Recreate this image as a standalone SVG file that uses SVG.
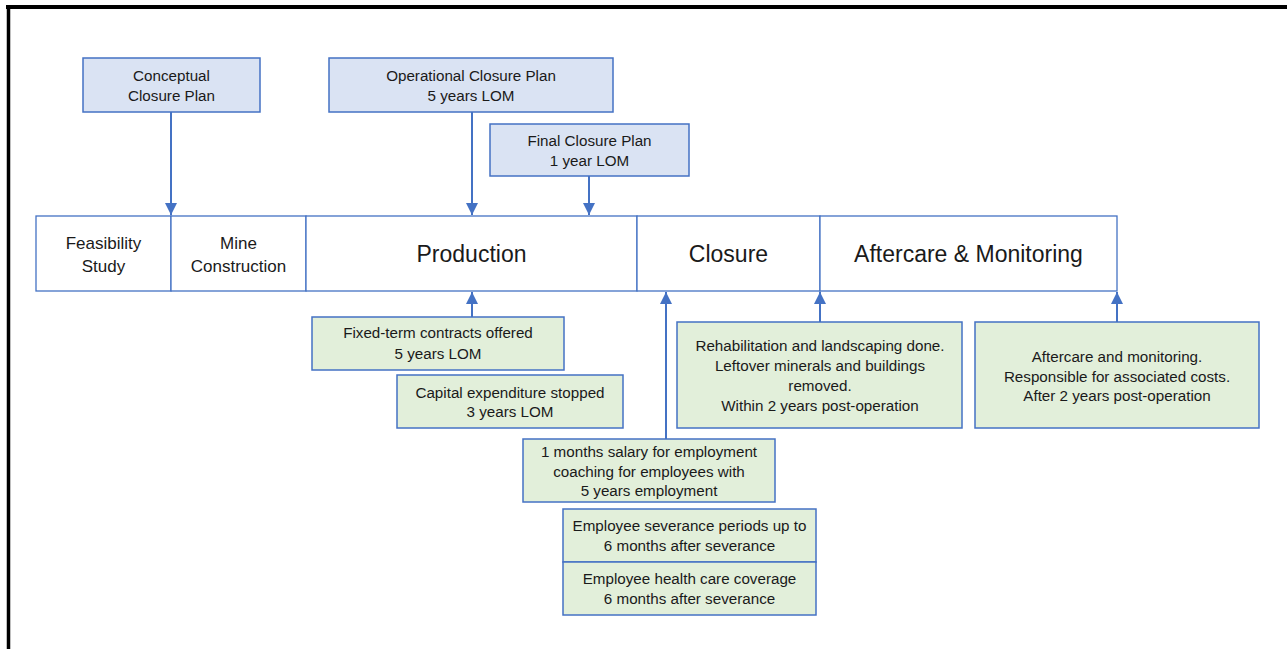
<svg xmlns="http://www.w3.org/2000/svg" width="1287" height="649" viewBox="0 0 1287 649">
  <style>
    text { font-family: "Liberation Sans", Arial, sans-serif; fill: #1a1a1a; text-anchor: middle; }
    .s { font-size: 15.2px; }
    .m { font-size: 17px; }
    .l { font-size: 23px; }
    .plan { fill: #dae3f3; stroke: #4472c4; stroke-width: 1.5; }
    .act { fill: #e2efda; stroke: #4472c4; stroke-width: 1.5; }
    .phase { fill: #ffffff; stroke: #4472c4; stroke-width: 1.3; }
    .conn { stroke: #4472c4; stroke-width: 2; fill: none; marker-end: url(#head); }
  </style>
  <defs>
    <marker id="head" markerUnits="userSpaceOnUse" markerWidth="14" markerHeight="12" refX="12" refY="6" orient="auto">
      <path d="M0,0 L12,6 L0,12 Z" fill="#4472c4"/>
    </marker>
  </defs>

  <rect width="1287" height="649" fill="#ffffff"/>
  <!-- frame -->
  <line x1="6" y1="7" x2="1287" y2="7" stroke="#000" stroke-width="4"/>
  <line x1="8.5" y1="5" x2="8.5" y2="649" stroke="#000" stroke-width="3.5"/>

  <!-- connectors -->
  <g id="connectors">
    <line class="conn" x1="171" y1="112" x2="171" y2="215"/>
    <line class="conn" x1="472" y1="112" x2="472" y2="215"/>
    <line class="conn" x1="589" y1="176" x2="589" y2="215"/>
    <line class="conn" x1="472" y1="317" x2="472" y2="292"/>
    <line class="conn" x1="666" y1="439" x2="666" y2="292"/>
    <line class="conn" x1="820" y1="322" x2="820" y2="292"/>
    <line class="conn" x1="1117" y1="322" x2="1117" y2="292"/>
  </g>

  <!-- closure plans -->
  <g id="conceptual-plan">
    <rect class="plan" x="83" y="58" width="177" height="54"/>
    <text class="s" x="171.5" y="81">Conceptual</text>
    <text class="s" x="171.5" y="101">Closure Plan</text>
  </g>
  <g id="operational-plan">
    <rect class="plan" x="329" y="58" width="284" height="54"/>
    <text class="s" x="471" y="81">Operational Closure Plan</text>
    <text class="s" x="471" y="101">5 years LOM</text>
  </g>
  <g id="final-plan">
    <rect class="plan" x="490" y="124" width="199" height="52"/>
    <text class="s" x="589.5" y="146">Final Closure Plan</text>
    <text class="s" x="589.5" y="166">1 year LOM</text>
  </g>

  <!-- phases -->
  <g id="phase-feasibility">
    <rect class="phase" x="36" y="216" width="135" height="75"/>
    <text class="m" x="103.5" y="249">Feasibility</text>
    <text class="m" x="103.5" y="272">Study</text>
  </g>
  <g id="phase-construction">
    <rect class="phase" x="171" y="216" width="135" height="75"/>
    <text class="m" x="238.5" y="249">Mine</text>
    <text class="m" x="238.5" y="272">Construction</text>
  </g>
  <g id="phase-production">
    <rect class="phase" x="306" y="216" width="331" height="75"/>
    <text class="l" x="471.5" y="262">Production</text>
  </g>
  <g id="phase-closure">
    <rect class="phase" x="637" y="216" width="183" height="75"/>
    <text class="l" x="728.5" y="262">Closure</text>
  </g>
  <g id="phase-aftercare">
    <rect class="phase" x="820" y="216" width="297" height="75"/>
    <text class="l" x="968.5" y="262">Aftercare &amp; Monitoring</text>
  </g>

  <!-- measures -->
  <g id="fixed-term">
    <rect class="act" x="312" y="317" width="252" height="53"/>
    <text class="s" x="438" y="338">Fixed-term contracts offered</text>
    <text class="s" x="438" y="359">5 years LOM</text>
  </g>
  <g id="capex-stop">
    <rect class="act" x="397" y="375" width="226" height="53"/>
    <text class="s" x="510" y="398">Capital expenditure stopped</text>
    <text class="s" x="510" y="417">3 years LOM</text>
  </g>
  <g id="rehabilitation">
    <rect class="act" x="677" y="322" width="285" height="106"/>
    <text class="s" x="820" y="351">Rehabilitation and landscaping done.</text>
    <text class="s" x="820" y="371">Leftover minerals and buildings</text>
    <text class="s" x="820" y="391">removed.</text>
    <text class="s" x="820" y="411">Within 2 years post-operation</text>
  </g>
  <g id="aftercare">
    <rect class="act" x="975" y="322" width="284" height="106"/>
    <text class="s" x="1117" y="362">Aftercare and monitoring.</text>
    <text class="s" x="1117" y="382">Responsible for associated costs.</text>
    <text class="s" x="1117" y="401">After 2 years post-operation</text>
  </g>
  <g id="coaching">
    <rect class="act" x="523" y="439" width="252" height="63"/>
    <text class="s" x="649" y="457">1 months salary for employment</text>
    <text class="s" x="649" y="477">coaching for employees with</text>
    <text class="s" x="649" y="496">5 years employment</text>
  </g>
  <g id="severance">
    <rect class="act" x="563" y="509" width="253" height="53"/>
    <text class="s" x="689.5" y="531">Employee severance periods up to</text>
    <text class="s" x="689.5" y="551">6 months after severance</text>
  </g>
  <g id="health-care">
    <rect class="act" x="563" y="562" width="253" height="53"/>
    <text class="s" x="689.5" y="584">Employee health care coverage</text>
    <text class="s" x="689.5" y="604">6 months after severance</text>
  </g>
</svg>
